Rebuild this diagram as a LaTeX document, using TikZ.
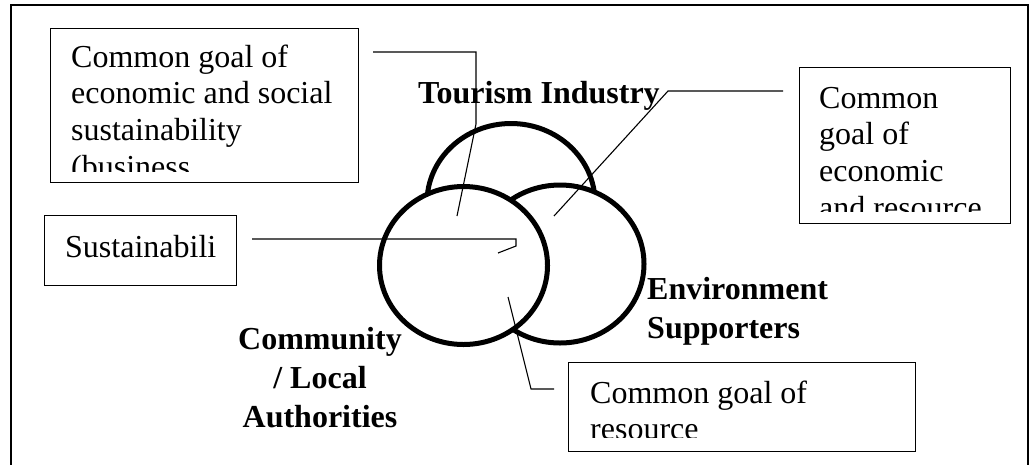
\documentclass[tikz,border=0pt]{standalone}
\usepackage{fontspec}
\setmainfont{Liberation Serif}
\usetikzlibrary{shapes.geometric}
\begin{document}
\begin{tikzpicture}[x=1pt,y=-1pt,
  frame/.style={line width=1.4pt},
  callout/.style={draw, line width=1.3pt, inner sep=0pt, anchor=north west},
  leader/.style={line width=1.1pt},
  ring/.style={ellipse, draw, fill=white, line width=5pt, inner sep=0pt,
               minimum width=168pt, minimum height=158pt},
  boxtext/.style={inner sep=0pt, anchor=base west, align=left,
                  font=\fontsize{32}{36.7}\selectfont},
  party/.style={inner sep=0pt, font=\fontsize{32}{39}\selectfont\bfseries},
]
\useasboundingbox (0,0) rectangle (1030,464);

% outer frame (open at the bottom)
\draw[frame] (11,470) -- (11,5) -- (1028,5) -- (1028,470);

% the three stakeholder circles, back to front
\node[ring] (tour) at (511,202.5) {};
\node[ring] (env)  at (560,264) {};
\node[ring] (comm) at (463.5,265.5) {};

% stakeholder labels (multi-line nodes sit on their last baseline)
\node[party, anchor=base west] (tourlbl) at (418,103) {Tourism Industry};
\node[party, anchor=base west, align=left] (envlbl) at (647,338)
  {Environment\\Supporters};
\node[party, anchor=base, align=center] (commlbl) at (320,427)
  {Community\\/ Local\\Authorities};

% callout boxes
\node[callout, minimum width=308pt, minimum height=154pt] (goalA) at (50,28) {};
\begin{scope}
  \clip (50,28) rectangle (358,171);
  \node[boxtext] (goalAtxt) at (71,177.1)
    {Common goal of\\economic and social\\sustainability\\(business};
\end{scope}

\node[callout, minimum width=211pt, minimum height=156pt] (goalB) at (799,67) {};
\begin{scope}
  \clip (799,67) rectangle (1010,211);
  \node[boxtext] (goalBtxt) at (819,218.1)
    {Common\\goal of\\economic\\and resource};
\end{scope}

\node[callout, minimum width=192pt, minimum height=70pt] (sust) at (44,215) {};
\node[boxtext] (susttxt) at (65,257) {Sustainabili};

\node[callout, minimum width=347pt, minimum height=89pt] (goalC) at (568,362) {};
\begin{scope}
  \clip (568,362) rectangle (915,437);
  \node[boxtext] (goalCtxt) at (590,439.7)
    {Common goal of\\resource};
\end{scope}

% leader lines from the boxes into the overlaps
\coordinate (a1) at (373,52);
\coordinate (a2) at (476,52);
\coordinate (a3) at (476,124);
\coordinate (a4) at (457,216);
\draw[leader] (a1) -- (a2) -- (a3) -- (a4);

\coordinate (b1) at (783,91);
\coordinate (b2) at (668,91);
\coordinate (b3) at (554,216);
\draw[leader] (b1) -- (b2) -- (b3);

\coordinate (s1) at (252,239);
\coordinate (s2) at (516,239);
\coordinate (s3) at (516,246);
\coordinate (s4) at (498,253);
\draw[leader] (s1) -- (s2) -- (s3) -- (s4);

\coordinate (c1) at (508,297);
\coordinate (c2) at (531,389);
\coordinate (c3) at (554,389);
\draw[leader] (c1) -- (c2) -- (c3);
\end{tikzpicture}
\end{document}
